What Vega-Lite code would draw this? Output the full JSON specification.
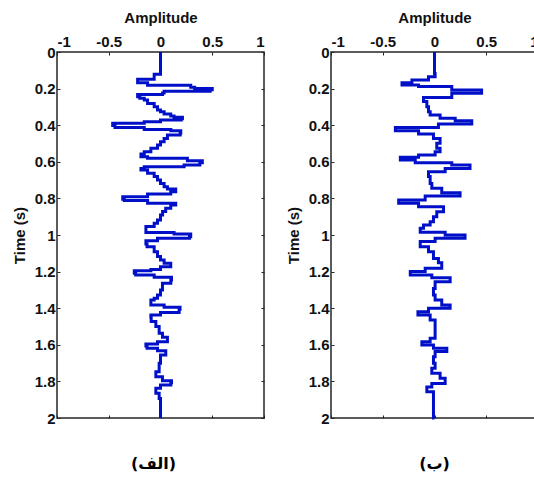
{
  "$schema": "https://vega.github.io/schema/vega-lite/v6.json",
  "background": "white",
  "padding": {"left": 11, "top": 9, "right": 0, "bottom": 0},
  "datasets": {
    "a": [
      {"t": 0, "amp": 0}, {"t": 0.113, "amp": 0}, {"t": 0.122, "amp": -0.061}, {"t": 0.138, "amp": -0.061},
      {"t": 0.149, "amp": -0.221}, {"t": 0.162, "amp": -0.221}, {"t": 0.168, "amp": -0.125}, {"t": 0.175, "amp": -0.125},
      {"t": 0.182, "amp": 0.292}, {"t": 0.192, "amp": 0.33}, {"t": 0.199, "amp": 0.5}, {"t": 0.206, "amp": 0.48},
      {"t": 0.214, "amp": 0.035}, {"t": 0.224, "amp": 0.02}, {"t": 0.232, "amp": -0.221}, {"t": 0.245, "amp": -0.2},
      {"t": 0.253, "amp": -0.157}, {"t": 0.262, "amp": -0.125}, {"t": 0.281, "amp": -0.061}, {"t": 0.299, "amp": -0.029},
      {"t": 0.317, "amp": 0.0}, {"t": 0.326, "amp": 0.035}, {"t": 0.339, "amp": 0.099}, {"t": 0.35, "amp": 0.131},
      {"t": 0.357, "amp": 0.212}, {"t": 0.365, "amp": 0.2}, {"t": 0.372, "amp": 0.0}, {"t": 0.381, "amp": -0.157},
      {"t": 0.39, "amp": -0.462}, {"t": 0.402, "amp": -0.44}, {"t": 0.412, "amp": -0.157}, {"t": 0.423, "amp": 0.1},
      {"t": 0.43, "amp": 0.196}, {"t": 0.442, "amp": 0.19}, {"t": 0.454, "amp": 0.067}, {"t": 0.472, "amp": 0.035},
      {"t": 0.49, "amp": 0.0}, {"t": 0.508, "amp": -0.029}, {"t": 0.526, "amp": -0.093}, {"t": 0.545, "amp": -0.157},
      {"t": 0.557, "amp": -0.189}, {"t": 0.572, "amp": -0.125}, {"t": 0.581, "amp": 0.26}, {"t": 0.594, "amp": 0.404},
      {"t": 0.605, "amp": 0.38}, {"t": 0.617, "amp": 0.228}, {"t": 0.627, "amp": -0.157}, {"t": 0.636, "amp": -0.189},
      {"t": 0.645, "amp": -0.125}, {"t": 0.663, "amp": -0.061}, {"t": 0.681, "amp": -0.029}, {"t": 0.699, "amp": 0.0},
      {"t": 0.718, "amp": 0.035}, {"t": 0.736, "amp": 0.067}, {"t": 0.749, "amp": 0.147}, {"t": 0.763, "amp": 0.099},
      {"t": 0.776, "amp": -0.125}, {"t": 0.791, "amp": -0.365}, {"t": 0.805, "amp": -0.35}, {"t": 0.812, "amp": -0.125},
      {"t": 0.827, "amp": 0.147}, {"t": 0.836, "amp": 0.099}, {"t": 0.854, "amp": 0.05}, {"t": 0.872, "amp": 0.02},
      {"t": 0.891, "amp": 0.0}, {"t": 0.918, "amp": -0.029}, {"t": 0.936, "amp": -0.061}, {"t": 0.954, "amp": -0.141},
      {"t": 0.973, "amp": -0.141}, {"t": 0.987, "amp": 0.131}, {"t": 0.995, "amp": 0.292}, {"t": 1.009, "amp": 0.28},
      {"t": 1.018, "amp": -0.029}, {"t": 1.031, "amp": -0.141}, {"t": 1.049, "amp": -0.13}, {"t": 1.064, "amp": -0.061},
      {"t": 1.091, "amp": -0.029}, {"t": 1.118, "amp": 0.0}, {"t": 1.137, "amp": 0.035}, {"t": 1.155, "amp": 0.099},
      {"t": 1.173, "amp": 0.0}, {"t": 1.188, "amp": -0.093}, {"t": 1.195, "amp": -0.253}, {"t": 1.209, "amp": -0.24},
      {"t": 1.219, "amp": -0.061}, {"t": 1.231, "amp": 0.106}, {"t": 1.246, "amp": 0.1}, {"t": 1.264, "amp": 0.019},
      {"t": 1.3, "amp": 0.0}, {"t": 1.328, "amp": -0.029}, {"t": 1.346, "amp": -0.061}, {"t": 1.355, "amp": -0.093},
      {"t": 1.383, "amp": 0.035}, {"t": 1.395, "amp": 0.189}, {"t": 1.406, "amp": 0.18}, {"t": 1.424, "amp": 0.0},
      {"t": 1.437, "amp": -0.093}, {"t": 1.45, "amp": -0.09}, {"t": 1.473, "amp": -0.045}, {"t": 1.5, "amp": -0.013},
      {"t": 1.537, "amp": 0.019}, {"t": 1.559, "amp": 0.067}, {"t": 1.583, "amp": -0.029}, {"t": 1.596, "amp": -0.141},
      {"t": 1.607, "amp": -0.13}, {"t": 1.619, "amp": -0.029}, {"t": 1.632, "amp": 0.051}, {"t": 1.656, "amp": 0.0},
      {"t": 1.701, "amp": -0.013}, {"t": 1.747, "amp": -0.045}, {"t": 1.774, "amp": 0.019}, {"t": 1.796, "amp": 0.106},
      {"t": 1.807, "amp": 0.1}, {"t": 1.82, "amp": 0.0}, {"t": 1.838, "amp": -0.045}, {"t": 1.865, "amp": -0.013},
      {"t": 1.893, "amp": 0.0}, {"t": 2.0, "amp": 0.0}
    ],
    "b": [
      {"t": 0, "amp": 0}, {"t": 0.098, "amp": 0}, {"t": 0.117, "amp": 0.006}, {"t": 0.135, "amp": -0.058},
      {"t": 0.153, "amp": -0.218}, {"t": 0.168, "amp": -0.314}, {"t": 0.18, "amp": -0.154}, {"t": 0.189, "amp": 0.167},
      {"t": 0.208, "amp": 0.455}, {"t": 0.226, "amp": 0.167}, {"t": 0.248, "amp": -0.106}, {"t": 0.271, "amp": -0.074},
      {"t": 0.299, "amp": -0.058}, {"t": 0.326, "amp": -0.042}, {"t": 0.344, "amp": 0.054}, {"t": 0.362, "amp": 0.2},
      {"t": 0.375, "amp": 0.36}, {"t": 0.393, "amp": 0.038}, {"t": 0.412, "amp": -0.378}, {"t": 0.43, "amp": -0.154},
      {"t": 0.448, "amp": -0.01}, {"t": 0.472, "amp": 0.054}, {"t": 0.499, "amp": 0.022}, {"t": 0.526, "amp": 0.054},
      {"t": 0.545, "amp": 0.006}, {"t": 0.563, "amp": -0.154}, {"t": 0.575, "amp": -0.33}, {"t": 0.59, "amp": -0.186},
      {"t": 0.605, "amp": 0.167}, {"t": 0.617, "amp": 0.343}, {"t": 0.636, "amp": 0.103}, {"t": 0.654, "amp": -0.058},
      {"t": 0.681, "amp": -0.042}, {"t": 0.718, "amp": -0.026}, {"t": 0.745, "amp": 0.07}, {"t": 0.769, "amp": 0.247},
      {"t": 0.787, "amp": -0.09}, {"t": 0.809, "amp": -0.346}, {"t": 0.827, "amp": -0.154}, {"t": 0.845, "amp": 0.087},
      {"t": 0.873, "amp": 0.022}, {"t": 0.9, "amp": -0.01}, {"t": 0.927, "amp": -0.042}, {"t": 0.945, "amp": -0.106},
      {"t": 0.963, "amp": -0.138}, {"t": 0.985, "amp": 0.103}, {"t": 1.0, "amp": 0.295}, {"t": 1.018, "amp": 0.006},
      {"t": 1.036, "amp": -0.138}, {"t": 1.064, "amp": -0.058}, {"t": 1.091, "amp": -0.01}, {"t": 1.128, "amp": 0.038},
      {"t": 1.151, "amp": 0.07}, {"t": 1.182, "amp": -0.09}, {"t": 1.2, "amp": -0.234}, {"t": 1.219, "amp": -0.026},
      {"t": 1.233, "amp": 0.151}, {"t": 1.255, "amp": 0.006}, {"t": 1.292, "amp": -0.01}, {"t": 1.328, "amp": 0.006},
      {"t": 1.355, "amp": 0.07}, {"t": 1.383, "amp": 0.151}, {"t": 1.4, "amp": -0.058}, {"t": 1.419, "amp": -0.16},
      {"t": 1.437, "amp": -0.042}, {"t": 1.464, "amp": 0.006}, {"t": 1.5, "amp": 0.006}, {"t": 1.537, "amp": 0.006},
      {"t": 1.564, "amp": -0.042}, {"t": 1.583, "amp": -0.122}, {"t": 1.601, "amp": -0.01}, {"t": 1.619, "amp": 0.119},
      {"t": 1.637, "amp": 0.006}, {"t": 1.665, "amp": -0.01}, {"t": 1.701, "amp": 0.006}, {"t": 1.728, "amp": -0.026},
      {"t": 1.756, "amp": 0.054}, {"t": 1.783, "amp": 0.103}, {"t": 1.811, "amp": -0.026}, {"t": 1.83, "amp": -0.074},
      {"t": 1.857, "amp": -0.01}, {"t": 2.0, "amp": 0}
    ]
  },
  "config": {
    "view": {"stroke": "#262626", "strokeWidth": 1.5},
    "axis": {
      "labelFont": "Liberation Sans", "labelFontWeight": "bold", "labelFontSize": 15, "labelColor": "#111111",
      "titleFont": "Liberation Sans", "titleFontWeight": "bold", "titleFontSize": 15, "titleColor": "#111111",
      "domain": false, "grid": false, "tickColor": "#262626", "tickSize": -3, "tickWidth": 1
    }
  },
  "spacing": 67,
  "bounds": "flush",
  "hconcat": [
    {
      "width": 207, "height": 366,
      "data": {"name": "a"},
      "title": {"text": "(الف)", "orient": "bottom", "offset": 30, "dx": -7, "font": "DejaVu Sans", "fontSize": 16, "fontWeight": "bold", "color": "#000000", "baseline": "top"},
      "layer": [
        {
          "mark": {"type": "line", "color": "#0010C8", "strokeWidth": 3, "interpolate": "step-before"},
          "encoding": {
            "x": {"field": "amp", "type": "quantitative", "scale": {"domain": [-1, 1], "nice": false, "zero": false},
                  "axis": {"orient": "top", "title": "Amplitude", "values": [-1, -0.5, 0, 0.5, 1], "labelExpr": "'' + datum.value", "labelPadding": 6, "titlePadding": 9}},
            "y": {"field": "t", "type": "quantitative", "scale": {"domain": [0, 2], "nice": false, "reverse": true},
                  "axis": {"orient": "left", "title": "Time (s)", "values": [0, 0.2, 0.4, 0.6, 0.8, 1, 1.2, 1.4, 1.6, 1.8, 2], "labelExpr": "'' + datum.value", "labelPadding": 5, "titlePadding": 7}},
            "order": {"field": "t", "type": "quantitative"}
          }
        },
        {
          "mark": {"type": "point", "opacity": 0},
          "encoding": {
            "x": {"field": "amp", "type": "quantitative", "axis": {"orient": "bottom", "title": null, "labels": false, "values": [-1, -0.5, 0, 0.5, 1]}},
            "y": {"field": "t", "type": "quantitative", "axis": {"orient": "right", "title": null, "labels": false, "values": [0, 0.2, 0.4, 0.6, 0.8, 1, 1.2, 1.4, 1.6, 1.8, 2]}}
          }
        }
      ],
      "resolve": {"axis": {"x": "independent", "y": "independent"}}
    },
    {
      "width": 207, "height": 366,
      "data": {"name": "b"},
      "title": {"text": "(ب)", "orient": "bottom", "offset": 30, "font": "DejaVu Sans", "fontSize": 16, "fontWeight": "bold", "color": "#000000", "baseline": "top"},
      "layer": [
        {
          "mark": {"type": "line", "color": "#0010C8", "strokeWidth": 3, "interpolate": "step-before"},
          "encoding": {
            "x": {"field": "amp", "type": "quantitative", "scale": {"domain": [-1, 1], "nice": false, "zero": false},
                  "axis": {"orient": "top", "title": "Amplitude", "values": [-1, -0.5, 0, 0.5, 1], "labelExpr": "'' + datum.value", "labelPadding": 6, "titlePadding": 9}},
            "y": {"field": "t", "type": "quantitative", "scale": {"domain": [0, 2], "nice": false, "reverse": true},
                  "axis": {"orient": "left", "title": "Time (s)", "values": [0, 0.2, 0.4, 0.6, 0.8, 1, 1.2, 1.4, 1.6, 1.8, 2], "labelExpr": "'' + datum.value", "labelPadding": 5, "titlePadding": 7}},
            "order": {"field": "t", "type": "quantitative"}
          }
        },
        {
          "mark": {"type": "point", "opacity": 0},
          "encoding": {
            "x": {"field": "amp", "type": "quantitative", "axis": {"orient": "bottom", "title": null, "labels": false, "values": [-1, -0.5, 0, 0.5, 1]}},
            "y": {"field": "t", "type": "quantitative", "axis": {"orient": "right", "title": null, "labels": false, "values": [0, 0.2, 0.4, 0.6, 0.8, 1, 1.2, 1.4, 1.6, 1.8, 2]}}
          }
        }
      ],
      "resolve": {"axis": {"x": "independent", "y": "independent"}}
    }
  ]
}
